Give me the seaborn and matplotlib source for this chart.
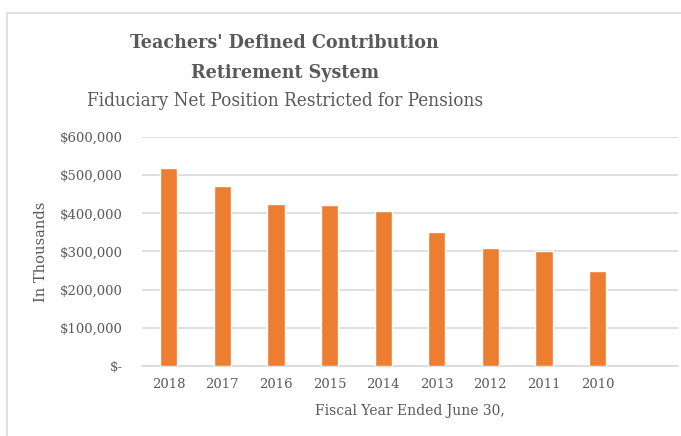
"""Teachers' DC Retirement System - fiduciary net position bar chart."""

import matplotlib
matplotlib.use("Agg")
import matplotlib.pyplot as plt
import matplotlib.patches as mpatches
import pandas as pd
import seaborn as sns

# fiscal years (newest first, as in the source report)
years = ["2018", "2017", "2016", "2015", "2014", "2013", "2012", "2011", "2010"]
# net position restricted for pensions, in thousands of dollars
net_position = [518000, 472000, 425000, 422000, 405000, 351000, 310000, 300000, 250000]
y_ticks = [0, 100000, 200000, 300000, 400000, 500000, 600000]
y_tick_labels = ["$-", "$100,000", "$200,000", "$300,000", "$400,000", "$500,000", "$600,000"]

BAR = "#ED7D31"
TEXT = "#595959"
GRID = "#D9D9D9"

sns.set_theme(style="white")
plt.rcParams["font.family"] = ["DejaVu Serif"]

df = pd.DataFrame({"year": years, "value": net_position})

fig = plt.figure(figsize=(6.81, 4.36), dpi=100)
ax = fig.add_axes([0.2085, 0.1606, 0.787, 0.5252])

sns.barplot(data=df, x="year", y="value", order=years, color=BAR,
            width=0.32, saturation=1, ax=ax, zorder=3)

# Excel leaves room for one more (empty) category slot on the right
ax.set_xlim(-0.5, len(years) + 0.5)
ax.set_ylim(0, 600000)
ax.set_yticks(y_ticks)
ax.set_yticklabels(y_tick_labels)
ax.yaxis.grid(True, color=GRID, linewidth=1.2, zorder=0)
ax.xaxis.grid(False)
for side in ["top", "right", "left"]:
    ax.spines[side].set_visible(False)
ax.spines["bottom"].set_color(GRID)
ax.spines["bottom"].set_linewidth(1.2)
ax.tick_params(axis="both", length=0, labelsize=9.5, labelcolor=TEXT)
ax.tick_params(axis="y", pad=14)
ax.tick_params(axis="x", pad=9)

ax.set_xlabel("Fiscal Year Ended June 30,", fontsize=10, color=TEXT, labelpad=9)
ax.set_ylabel("In Thousands", fontsize=10.5, color=TEXT, labelpad=8)

# chart title block
title_kw = dict(ha="center", va="center", color=TEXT, fontstretch="condensed")
fig.text(0.418, 0.902, "Teachers' Defined Contribution", fontsize=14,
         fontweight="bold", **title_kw)
fig.text(0.418, 0.833, "Retirement System", fontsize=14, fontweight="bold", **title_kw)
fig.text(0.418, 0.768, "Fiduciary Net Position Restricted for Pensions",
         fontsize=13.5, **title_kw)

# light chart-area border (cut off at the right and bottom)
fig.patches.append(mpatches.Rectangle((7 / 681, -0.05), 1.0, 1 - 13 / 436 + 0.05,
                                      transform=fig.transFigure, fill=False,
                                      edgecolor=GRID, linewidth=1.2))

fig.savefig("out.png", dpi=100)
